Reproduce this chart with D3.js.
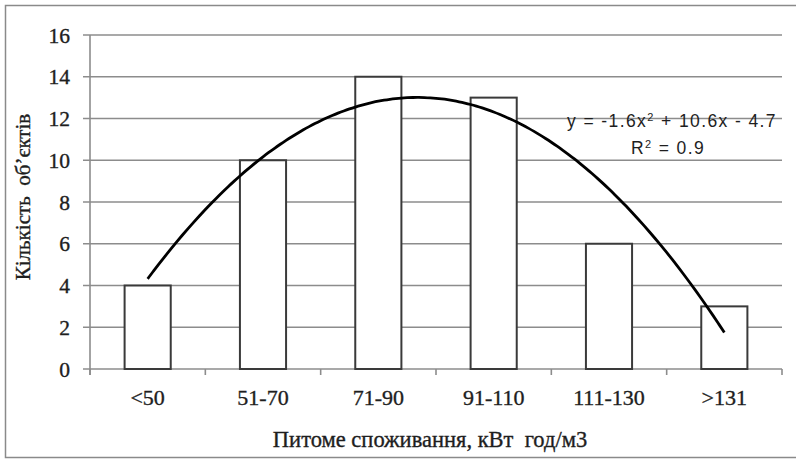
<!DOCTYPE html>
<html>
<head>
<meta charset="utf-8">
<script src="https://cdn.jsdelivr.net/npm/d3@7"></script>
<style>
  html, body { margin: 0; padding: 0; background: #fff; }
  svg { display: block; }
  .serif { font-family: "Liberation Serif", "Times New Roman", serif; fill: #1e1e1e; stroke: #1e1e1e; stroke-width: 0.35px; }
  .sans { font-family: "Liberation Sans", Arial, sans-serif; fill: #1e1e1e; }
</style>
</head>
<body>
<svg id="chart" width="796" height="459"></svg>
<script>
// Consumption classes and number of objects in each
const categories = ["<50", "51-70", "71-90", "91-110", "111-130", ">131"];
const counts = [4, 10, 14, 13, 6, 3];
const yTicks = [0, 2, 4, 6, 8, 10, 12, 14, 16];
const xTitle = "Питоме споживання, кВт  год/м3";
const yTitle = "Кількість  об’єктів";

const m = { left: 90, right: 782, top: 35, bottom: 369 };

const svg = d3.select("#chart");

// outer chart frame
svg.append("rect")
  .attr("x", 5.5).attr("y", 5.5)
  .attr("width", 820).attr("height", 452)
  .attr("fill", "none").attr("stroke", "#8a8a8a").attr("stroke-width", 1.5);

const x = d3.scaleBand().domain(categories)
  .range([m.left, m.right]).paddingInner(0.6).paddingOuter(0.3);
const y = d3.scaleLinear().domain([0, 16]).range([m.bottom, m.top]);

// horizontal gridlines with small outside ticks
svg.append("g").selectAll("line").data(yTicks).join("line")
  .attr("x1", m.left - 7).attr("x2", m.right)
  .attr("y1", d => y(d)).attr("y2", d => y(d))
  .attr("stroke", "#8c8c8c").attr("stroke-width", 1.6);

// y axis line
svg.append("line")
  .attr("x1", m.left).attr("x2", m.left)
  .attr("y1", y(16)).attr("y2", m.bottom + 6)
  .attr("stroke", "#8c8c8c").attr("stroke-width", 1.6);

// y tick labels
svg.append("g").selectAll("text").data(yTicks).join("text")
  .attr("class", "serif")
  .attr("x", 70).attr("y", d => y(d))
  .attr("dy", "0.35em")
  .attr("text-anchor", "end")
  .attr("font-size", 21.5)
  .text(d => d);

// category boundary ticks
const step = x.step();
const bounds = d3.range(categories.length + 1).map(i => m.left + i * step);
svg.append("g").selectAll("line").data(bounds).join("line")
  .attr("x1", d => d).attr("x2", d => d)
  .attr("y1", m.bottom).attr("y2", m.bottom + 6)
  .attr("stroke", "#8c8c8c").attr("stroke-width", 1.6);

// bars
svg.append("g").selectAll("rect").data(counts).join("rect")
  .attr("x", (d, i) => x(categories[i]))
  .attr("y", d => y(d))
  .attr("width", x.bandwidth())
  .attr("height", d => y(0) - y(d))
  .attr("fill", "#fff")
  .attr("stroke", "#3a3a3a").attr("stroke-width", 2);

// x tick labels
svg.append("g").selectAll("text").data(categories).join("text")
  .attr("class", "serif")
  .attr("x", d => x(d) + x.bandwidth() / 2)
  .attr("y", 405)
  .attr("text-anchor", "middle")
  .attr("font-size", 22)
  .text(d => d);

// least-squares quadratic trend fitted to the counts (x = 1..n)
const xs = counts.map((d, i) => i + 1);
function polyFit2(xv, yv) {
  const S = k => d3.sum(xv, v => Math.pow(v, k));
  const T = k => d3.sum(xv, (v, i) => Math.pow(v, k) * yv[i]);
  const A = [[S(4), S(3), S(2)], [S(3), S(2), S(1)], [S(2), S(1), xv.length]];
  const b = [T(2), T(1), T(0)];
  for (let c = 0; c < 3; c++) {
    for (let r = c + 1; r < 3; r++) {
      const f = A[r][c] / A[c][c];
      for (let k = c; k < 3; k++) A[r][k] -= f * A[c][k];
      b[r] -= f * b[c];
    }
  }
  const s = [0, 0, 0];
  for (let r = 2; r >= 0; r--) {
    let v = b[r];
    for (let k = r + 1; k < 3; k++) v -= A[r][k] * s[k];
    s[r] = v / A[r][r];
  }
  return s; // [a, b, c] for a x^2 + b x + c
}
const [qa, qb, qc] = polyFit2(xs, counts);
const f = v => qa * v * v + qb * v + qc;
const mean = d3.mean(counts);
const r2 = 1 - d3.sum(counts, (d, i) => (d - f(xs[i])) ** 2) / d3.sum(counts, d => (d - mean) ** 2);

const xPos = v => x(categories[0]) + x.bandwidth() / 2 + (v - 1) * step;
const samples = d3.range(1, 6.0001, 0.05);
svg.append("path")
  .datum(samples)
  .attr("d", d3.line().x(v => xPos(v)).y(v => y(f(v))).curve(d3.curveBasis))
  .attr("fill", "none").attr("stroke", "#000").attr("stroke-width", 2.8);

// trend equation and R²
const fmt = v => v.toFixed(1);
const sgn = v => (v < 0 ? " - " : " + ");
const eq = svg.append("text").attr("class", "sans")
  .attr("x", 777).attr("y", 127).attr("text-anchor", "end")
  .attr("font-size", 17.5).attr("letter-spacing", 1.4);
eq.append("tspan").text("y = " + fmt(qa) + "x");
eq.append("tspan").attr("dy", -6).attr("font-size", 11).text("2");
eq.append("tspan").attr("dy", 6).text(sgn(qb) + fmt(Math.abs(qb)) + "x" + sgn(qc) + fmt(Math.abs(qc)));

const rt = svg.append("text").attr("class", "sans")
  .attr("x", 668).attr("y", 154).attr("text-anchor", "middle")
  .attr("font-size", 17.5).attr("letter-spacing", 1.4);
rt.append("tspan").text("R");
rt.append("tspan").attr("dy", -6).attr("font-size", 11).text("2");
rt.append("tspan").attr("dy", 6).text(" = " + fmt(r2));

// axis titles
svg.append("text").attr("class", "serif")
  .attr("x", 430).attr("y", 447)
  .attr("text-anchor", "middle").attr("font-size", 22.5)
  .style("white-space", "pre")
  .text(xTitle);

svg.append("text").attr("class", "serif")
  .attr("transform", "translate(30,197) rotate(-90)")
  .attr("text-anchor", "middle").attr("font-size", 21)
  .style("white-space", "pre")
  .text(yTitle);
</script>
</body>
</html>
